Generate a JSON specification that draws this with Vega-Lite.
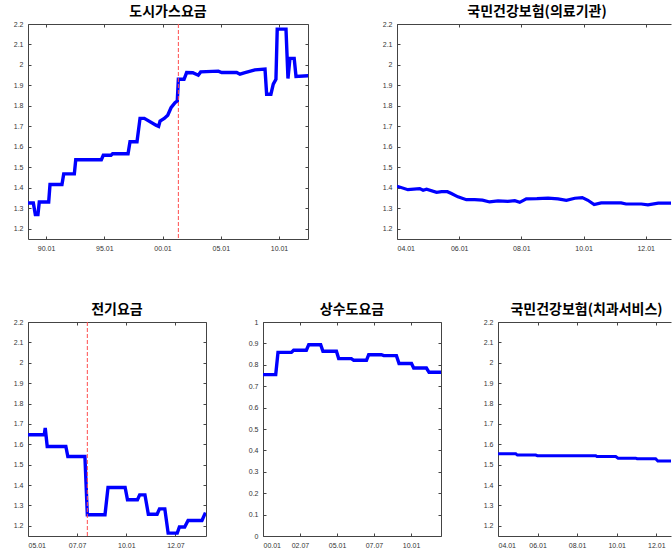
{
  "$schema": "https://vega.github.io/schema/vega-lite/v6.json",
  "padding": {"left": 13, "top": 5, "right": 0, "bottom": 0},
  "background": "white",
  "datasets": {
    "gas": [
      {"d": "1988-06-13", "v": 1.326}, {"d": "1988-11-28", "v": 1.326}, {"d": "1989-01-30", "v": 1.269},
      {"d": "1989-04-22", "v": 1.269}, {"d": "1989-06-03", "v": 1.331}, {"d": "1990-03-25", "v": 1.331},
      {"d": "1990-05-05", "v": 1.416}, {"d": "1991-05-15", "v": 1.416}, {"d": "1991-07-09", "v": 1.468},
      {"d": "1992-06-06", "v": 1.468}, {"d": "1992-07-20", "v": 1.537}, {"d": "1994-10-01", "v": 1.537},
      {"d": "1994-12-01", "v": 1.559}, {"d": "1995-07-31", "v": 1.559}, {"d": "1995-09-20", "v": 1.566},
      {"d": "1997-01-15", "v": 1.566}, {"d": "1997-03-18", "v": 1.625}, {"d": "1997-10-23", "v": 1.625},
      {"d": "1998-01-26", "v": 1.739}, {"d": "1998-06-10", "v": 1.739}, {"d": "1999-06-10", "v": 1.706},
      {"d": "1999-09-01", "v": 1.700}, {"d": "1999-10-16", "v": 1.726}, {"d": "2000-02-24", "v": 1.739},
      {"d": "2000-06-13", "v": 1.755}, {"d": "2000-09-24", "v": 1.791}, {"d": "2001-01-26", "v": 1.816},
      {"d": "2001-04-08", "v": 1.824}, {"d": "2001-05-12", "v": 1.930}, {"d": "2001-11-06", "v": 1.930},
      {"d": "2002-01-26", "v": 1.963}, {"d": "2002-08-07", "v": 1.962}, {"d": "2003-01-26", "v": 1.950},
      {"d": "2003-04-12", "v": 1.966}, {"d": "2004-10-16", "v": 1.970}, {"d": "2005-01-30", "v": 1.963},
      {"d": "2006-05-15", "v": 1.963}, {"d": "2006-08-25", "v": 1.955}, {"d": "2007-01-30", "v": 1.962},
      {"d": "2007-12-08", "v": 1.976}, {"d": "2008-10-19", "v": 1.980}, {"d": "2008-12-09", "v": 1.857},
      {"d": "2009-04-22", "v": 1.857}, {"d": "2009-07-05", "v": 1.906}, {"d": "2009-09-27", "v": 1.930},
      {"d": "2009-11-06", "v": 2.175}, {"d": "2010-08-08", "v": 2.175}, {"d": "2010-10-09", "v": 1.934},
      {"d": "2010-12-10", "v": 2.032}, {"d": "2011-04-22", "v": 2.032}, {"d": "2011-06-18", "v": 1.944},
      {"d": "2012-07-01", "v": 1.947}
    ],
    "nhi1": [
      {"d": "2004-01-01", "v": 1.408}, {"d": "2004-05-08", "v": 1.391}, {"d": "2004-09-24", "v": 1.396},
      {"d": "2004-11-03", "v": 1.388}, {"d": "2004-12-13", "v": 1.393}, {"d": "2005-04-10", "v": 1.378},
      {"d": "2005-06-08", "v": 1.381}, {"d": "2005-08-15", "v": 1.381}, {"d": "2005-10-01", "v": 1.372},
      {"d": "2005-12-17", "v": 1.356}, {"d": "2006-03-26", "v": 1.342}, {"d": "2006-07-02", "v": 1.342},
      {"d": "2006-10-01", "v": 1.340}, {"d": "2006-12-24", "v": 1.331}, {"d": "2007-04-02", "v": 1.336},
      {"d": "2007-07-27", "v": 1.334}, {"d": "2007-10-16", "v": 1.337}, {"d": "2007-12-13", "v": 1.329},
      {"d": "2008-02-28", "v": 1.346}, {"d": "2008-07-02", "v": 1.347}, {"d": "2008-11-10", "v": 1.350},
      {"d": "2009-03-07", "v": 1.346}, {"d": "2009-06-13", "v": 1.339}, {"d": "2009-09-20", "v": 1.349},
      {"d": "2009-12-17", "v": 1.352}, {"d": "2010-02-21", "v": 1.339}, {"d": "2010-05-05", "v": 1.318},
      {"d": "2010-07-27", "v": 1.326}, {"d": "2010-11-25", "v": 1.326}, {"d": "2011-03-18", "v": 1.326},
      {"d": "2011-05-15", "v": 1.321}, {"d": "2011-11-10", "v": 1.321}, {"d": "2012-01-27", "v": 1.317},
      {"d": "2012-05-27", "v": 1.325}, {"d": "2012-10-30", "v": 1.325}
    ],
    "elec": [
      {"d": "2005-01-01", "v": 1.647}, {"d": "2005-10-30", "v": 1.647}, {"d": "2005-11-17", "v": 1.680},
      {"d": "2005-12-24", "v": 1.589}, {"d": "2006-12-05", "v": 1.589}, {"d": "2007-01-11", "v": 1.540},
      {"d": "2007-11-24", "v": 1.540}, {"d": "2008-01-08", "v": 1.254}, {"d": "2008-12-01", "v": 1.254},
      {"d": "2009-01-26", "v": 1.388}, {"d": "2009-12-10", "v": 1.388}, {"d": "2010-01-23", "v": 1.328},
      {"d": "2010-07-27", "v": 1.328}, {"d": "2010-09-06", "v": 1.352}, {"d": "2010-12-13", "v": 1.352},
      {"d": "2011-02-14", "v": 1.257}, {"d": "2011-07-27", "v": 1.257}, {"d": "2011-09-09", "v": 1.283},
      {"d": "2011-12-17", "v": 1.283}, {"d": "2012-02-17", "v": 1.164}, {"d": "2012-08-04", "v": 1.164},
      {"d": "2012-09-13", "v": 1.194}, {"d": "2012-12-20", "v": 1.194}, {"d": "2013-02-21", "v": 1.226},
      {"d": "2013-11-06", "v": 1.226}, {"d": "2014-01-10", "v": 1.265}
    ],
    "water": [
      {"d": "2000-01-01", "v": 0.754}, {"d": "2000-11-10", "v": 0.754}, {"d": "2001-01-05", "v": 0.858},
      {"d": "2001-12-02", "v": 0.858}, {"d": "2002-01-26", "v": 0.868}, {"d": "2002-12-06", "v": 0.868},
      {"d": "2003-02-03", "v": 0.894}, {"d": "2003-11-24", "v": 0.894}, {"d": "2004-01-19", "v": 0.863},
      {"d": "2004-12-17", "v": 0.863}, {"d": "2005-02-10", "v": 0.829}, {"d": "2005-12-20", "v": 0.829},
      {"d": "2006-02-17", "v": 0.821}, {"d": "2006-12-28", "v": 0.821}, {"d": "2007-02-21", "v": 0.847},
      {"d": "2008-01-01", "v": 0.847}, {"d": "2008-02-28", "v": 0.843}, {"d": "2009-01-05", "v": 0.843},
      {"d": "2009-03-11", "v": 0.806}, {"d": "2010-01-12", "v": 0.806}, {"d": "2010-03-07", "v": 0.785},
      {"d": "2011-01-15", "v": 0.785}, {"d": "2011-03-21", "v": 0.765}, {"d": "2012-01-19", "v": 0.765}
    ],
    "nhi2": [
      {"d": "2004-01-01", "v": 1.553}, {"d": "2004-11-24", "v": 1.553}, {"d": "2004-12-24", "v": 1.547},
      {"d": "2005-11-28", "v": 1.547}, {"d": "2005-12-28", "v": 1.544}, {"d": "2008-12-09", "v": 1.544},
      {"d": "2009-01-01", "v": 1.540}, {"d": "2009-12-13", "v": 1.540}, {"d": "2010-01-26", "v": 1.532},
      {"d": "2010-12-16", "v": 1.532}, {"d": "2011-01-12", "v": 1.529}, {"d": "2011-12-20", "v": 1.529},
      {"d": "2012-01-30", "v": 1.518}, {"d": "2012-10-01", "v": 1.518}
    ]
  },
  "vconcat": [
    {
      "bounds": "flush",
      "spacing": 89,
      "hconcat": [
        {
          "width": 280, "height": 215,
          "title": "도시가스요금",
          "layer": [
            {"data": {"name": "gas"}, "mark": {"type": "line", "color": "#0000ff", "strokeWidth": 3.4, "clip": true},
             "encoding": {
               "x": {"field": "d", "type": "temporal", "scale": {"domain": [{"year": 1988, "month": 6, "date": 14}, {"year": 2012, "month": 6, "date": 28}]},
                     "axis": {"orient": "bottom", "format": "%y.%m", "title": null, "values": [{"year": 1990, "month": 1, "date": 1}, {"year": 1995, "month": 1, "date": 1}, {"year": 2000, "month": 1, "date": 1}, {"year": 2005, "month": 1, "date": 1}, {"year": 2010, "month": 1, "date": 1}]}},
               "y": {"field": "v", "type": "quantitative", "scale": {"domain": [1.15, 2.2], "nice": false, "zero": false},
                     "axis": {"orient": "left", "format": ".1~f", "title": null, "values": [1.2, 1.3, 1.4, 1.5, 1.6, 1.7, 1.8, 1.9, 2.0, 2.1, 2.2]}}
             }},
            {"data": {"name": "gas"}, "mark": {"type": "line", "opacity": 0},
             "encoding": {
               "x": {"field": "d", "type": "temporal", "axis": {"orient": "top", "labels": false, "title": null, "values": [{"year": 1990, "month": 1, "date": 1}, {"year": 1995, "month": 1, "date": 1}, {"year": 2000, "month": 1, "date": 1}, {"year": 2005, "month": 1, "date": 1}, {"year": 2010, "month": 1, "date": 1}]}},
               "y": {"field": "v", "type": "quantitative", "axis": {"orient": "right", "labels": false, "title": null, "values": [1.2, 1.3, 1.4, 1.5, 1.6, 1.7, 1.8, 1.9, 2.0, 2.1, 2.2]}}
             }},
            {"data": {"values": [{"d": "2001-05-12"}]}, "mark": {"type": "rule", "color": "#ff4d4d", "strokeDash": [4, 2], "strokeWidth": 1},
             "encoding": {"x": {"field": "d", "type": "temporal", "axis": null}}}
          ],
          "resolve": {"axis": {"x": "independent", "y": "independent"}}
        },
        {
          "width": 274, "height": 215,
          "title": {"text": "국민건강보험(의료기관)", "dx": 3},
          "layer": [
            {"data": {"name": "nhi1"}, "mark": {"type": "line", "color": "#0000ff", "strokeWidth": 3.2, "clip": true},
             "encoding": {
               "x": {"field": "d", "type": "temporal", "scale": {"domain": [{"year": 2004, "month": 1, "date": 1}, {"year": 2012, "month": 10, "date": 24}]},
                     "axis": {"orient": "bottom", "format": "%y.%m", "title": null, "values": [{"year": 2004, "month": 1, "date": 1}, {"year": 2006, "month": 1, "date": 1}, {"year": 2008, "month": 1, "date": 1}, {"year": 2010, "month": 1, "date": 1}, {"year": 2012, "month": 1, "date": 1}]}},
               "y": {"field": "v", "type": "quantitative", "scale": {"domain": [1.15, 2.2], "nice": false, "zero": false},
                     "axis": {"orient": "left", "format": ".1~f", "title": null, "values": [1.2, 1.3, 1.4, 1.5, 1.6, 1.7, 1.8, 1.9, 2.0, 2.1, 2.2]}}
             }},
            {"data": {"name": "nhi1"}, "mark": {"type": "line", "opacity": 0},
             "encoding": {
               "x": {"field": "d", "type": "temporal", "axis": {"orient": "top", "labels": false, "title": null, "values": [{"year": 2004, "month": 1, "date": 1}, {"year": 2006, "month": 1, "date": 1}, {"year": 2008, "month": 1, "date": 1}, {"year": 2010, "month": 1, "date": 1}, {"year": 2012, "month": 1, "date": 1}]}},
               "y": {"field": "v", "type": "quantitative", "axis": null}
             }}
          ],
          "resolve": {"axis": {"x": "independent", "y": "independent"}}
        }
      ]
    },
    {
      "bounds": "flush",
      "spacing": 57,
      "hconcat": [
        {
          "width": 178, "height": 214,
          "title": "전기요금",
          "layer": [
            {"data": {"name": "elec"}, "mark": {"type": "line", "color": "#0000ff", "strokeWidth": 3.4, "clip": true},
             "encoding": {
               "x": {"field": "d", "type": "temporal", "scale": {"domain": [{"year": 2005, "month": 1, "date": 1}, {"year": 2014, "month": 1, "date": 20}]},
                     "axis": {"orient": "bottom", "format": "%y.%m", "title": null, "values": [{"year": 2005, "month": 1, "date": 1}, {"year": 2007, "month": 7, "date": 1}, {"year": 2010, "month": 1, "date": 1}, {"year": 2012, "month": 7, "date": 1}]}},
               "y": {"field": "v", "type": "quantitative", "scale": {"domain": [1.15, 2.2], "nice": false, "zero": false},
                     "axis": {"orient": "left", "format": ".1~f", "title": null, "values": [1.2, 1.3, 1.4, 1.5, 1.6, 1.7, 1.8, 1.9, 2.0, 2.1, 2.2]}}
             }},
            {"data": {"name": "elec"}, "mark": {"type": "line", "opacity": 0},
             "encoding": {
               "x": {"field": "d", "type": "temporal", "axis": {"orient": "top", "labels": false, "title": null, "values": [{"year": 2005, "month": 1, "date": 1}, {"year": 2007, "month": 7, "date": 1}, {"year": 2010, "month": 1, "date": 1}, {"year": 2012, "month": 7, "date": 1}]}},
               "y": {"field": "v", "type": "quantitative", "axis": {"orient": "right", "labels": false, "title": null, "values": [1.2, 1.3, 1.4, 1.5, 1.6, 1.7, 1.8, 1.9, 2.0, 2.1, 2.2]}}
             }},
            {"data": {"values": [{"d": "2008-01-08"}]}, "mark": {"type": "rule", "color": "#ff4d4d", "strokeDash": [4, 2], "strokeWidth": 1},
             "encoding": {"x": {"field": "d", "type": "temporal", "axis": null}}}
          ],
          "resolve": {"axis": {"x": "independent", "y": "independent"}}
        },
        {
          "width": 178, "height": 214,
          "title": "상수도요금",
          "layer": [
            {"data": {"name": "water"}, "mark": {"type": "line", "color": "#0000ff", "strokeWidth": 3.4, "clip": true},
             "encoding": {
               "x": {"field": "d", "type": "temporal", "scale": {"domain": [{"year": 2000, "month": 1, "date": 1}, {"year": 2012, "month": 1, "date": 10}]},
                     "axis": {"orient": "bottom", "format": "%y.%m", "title": null, "values": [{"year": 2000, "month": 1, "date": 1}, {"year": 2002, "month": 7, "date": 1}, {"year": 2005, "month": 1, "date": 1}, {"year": 2007, "month": 7, "date": 1}, {"year": 2010, "month": 1, "date": 1}]}},
               "y": {"field": "v", "type": "quantitative", "scale": {"domain": [0, 1], "nice": false, "zero": false},
                     "axis": {"orient": "left", "format": ".1~f", "title": null, "values": [0, 0.1, 0.2, 0.3, 0.4, 0.5, 0.6, 0.7, 0.8, 0.9, 1.0]}}
             }},
            {"data": {"name": "water"}, "mark": {"type": "line", "opacity": 0},
             "encoding": {
               "x": {"field": "d", "type": "temporal", "axis": {"orient": "top", "labels": false, "title": null, "values": [{"year": 2000, "month": 1, "date": 1}, {"year": 2002, "month": 7, "date": 1}, {"year": 2005, "month": 1, "date": 1}, {"year": 2007, "month": 7, "date": 1}, {"year": 2010, "month": 1, "date": 1}]}},
               "y": {"field": "v", "type": "quantitative", "axis": {"orient": "right", "labels": false, "title": null, "values": [0, 0.1, 0.2, 0.3, 0.4, 0.5, 0.6, 0.7, 0.8, 0.9, 1.0]}}
             }}
          ],
          "resolve": {"axis": {"x": "independent", "y": "independent"}}
        },
        {
          "width": 173, "height": 214,
          "title": {"text": "국민건강보험(치과서비스)", "dx": 2},
          "layer": [
            {"data": {"name": "nhi2"}, "mark": {"type": "line", "color": "#0000ff", "strokeWidth": 3.0, "clip": true},
             "encoding": {
               "x": {"field": "d", "type": "temporal", "scale": {"domain": [{"year": 2004, "month": 1, "date": 1}, {"year": 2012, "month": 9, "date": 29}]},
                     "axis": {"orient": "bottom", "format": "%y.%m", "title": null, "values": [{"year": 2004, "month": 1, "date": 1}, {"year": 2006, "month": 1, "date": 1}, {"year": 2008, "month": 1, "date": 1}, {"year": 2010, "month": 1, "date": 1}, {"year": 2012, "month": 1, "date": 1}]}},
               "y": {"field": "v", "type": "quantitative", "scale": {"domain": [1.15, 2.2], "nice": false, "zero": false},
                     "axis": {"orient": "left", "format": ".1~f", "title": null, "values": [1.2, 1.3, 1.4, 1.5, 1.6, 1.7, 1.8, 1.9, 2.0, 2.1, 2.2]}}
             }},
            {"data": {"name": "nhi2"}, "mark": {"type": "line", "opacity": 0},
             "encoding": {
               "x": {"field": "d", "type": "temporal", "axis": {"orient": "top", "labels": false, "title": null, "values": [{"year": 2004, "month": 1, "date": 1}, {"year": 2006, "month": 1, "date": 1}, {"year": 2008, "month": 1, "date": 1}, {"year": 2010, "month": 1, "date": 1}, {"year": 2012, "month": 1, "date": 1}]}},
               "y": {"field": "v", "type": "quantitative", "axis": null}
             }}
          ],
          "resolve": {"axis": {"x": "independent", "y": "independent"}}
        }
      ]
    }
  ],
  "spacing": 52,
  "config": {
    "view": {"stroke": null},
    "axis": {
      "grid": false,
      "labelFont": "Liberation Sans",
      "labelFontSize": 7,
      "labelColor": "#333333",
      "tickColor": "#444444",
      "tickSize": -3,
      "labelPadding": 8,
      "domainColor": "#444444",
      "domainWidth": 1
    },
    "title": {
      "font": "Noto Sans CJK KR",
      "fontSize": 14,
      "fontWeight": "bold",
      "color": "#000000",
      "anchor": "middle",
      "offset": 1
    }
  }
}
